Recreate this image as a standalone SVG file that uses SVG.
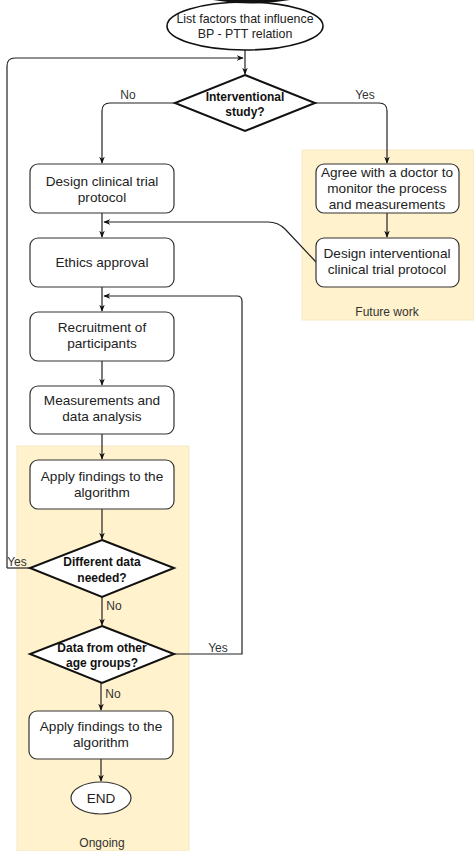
<svg xmlns="http://www.w3.org/2000/svg" width="474" height="851" viewBox="0 0 474 851">
<style>
.t{font-family:"Liberation Sans",Arial,sans-serif;font-size:13.6px;fill:#222;text-anchor:middle}
.s{font-size:12.4px}
.b{font-family:"Liberation Sans",Arial,sans-serif;font-size:12px;font-weight:bold;fill:#111;text-anchor:middle}
.l{font-family:"Liberation Sans",Arial,sans-serif;font-size:12px;fill:#333;text-anchor:middle}
.box{fill:#fff;stroke:#333;stroke-width:1.2}
.dia{fill:#fff;stroke:#111;stroke-width:2}
.c{fill:none;stroke:#222;stroke-width:1.2}
.cont{fill:#fff2cc;stroke:#f5e9c8;stroke-width:1}
</style>
<defs>
<marker id="a" viewBox="0 0 10 10" refX="9" refY="5" markerWidth="7" markerHeight="7" orient="auto" markerUnits="userSpaceOnUse">
<path d="M0,1 L10,5 L0,9 L3,5 Z" fill="#111"/>
</marker>
</defs>
<rect width="474" height="851" fill="#fff"/>
<g id="future-work">
<rect class="cont" x="302" y="150" width="172" height="170"/>
<text class="l" x="387" y="316">Future work</text>
</g>
<g id="ongoing">
<rect class="cont" x="17" y="446" width="172" height="405"/>
<text class="l" x="102" y="847">Ongoing</text>
</g>
<g id="connectors">
<line class="c" x1="245" y1="50" x2="245" y2="74" marker-end="url(#a)"/>
<path class="c" d="M7,568 L7,66 Q7,58 15,58 L243,58" marker-end="url(#a)"/>
<path class="c" d="M175,103 L110,103 Q102,103 102,111 L102,163" marker-end="url(#a)"/>
<path class="c" d="M315,103 L379,103 Q387,103 387,111 L387,163" marker-end="url(#a)"/>
<line class="c" x1="387" y1="213" x2="387" y2="237" marker-end="url(#a)"/>
<path class="c" d="M316,262 L285,229 Q278,222 268,222 L104,222" marker-end="url(#a)"/>
<line class="c" x1="102" y1="213" x2="102" y2="237" marker-end="url(#a)"/>
<line class="c" x1="102" y1="287" x2="102" y2="311" marker-end="url(#a)"/>
<path class="c" d="M174,654 L242,654 L242,301 Q242,296 237,296 L104,296" marker-end="url(#a)"/>
<line class="c" x1="102" y1="361" x2="102" y2="385" marker-end="url(#a)"/>
<line class="c" x1="102" y1="434" x2="102" y2="459" marker-end="url(#a)"/>
<line class="c" x1="102" y1="509" x2="102" y2="539" marker-end="url(#a)"/>
<line class="c" x1="30" y1="568" x2="7" y2="568"/>
<line class="c" x1="102" y1="597" x2="102" y2="625" marker-end="url(#a)"/>
<line class="c" x1="101" y1="683" x2="101" y2="710" marker-end="url(#a)"/>
<line class="c" x1="101" y1="759" x2="101" y2="781" marker-end="url(#a)"/>
<text class="l" x="128" y="99">No</text>
<text class="l" x="365" y="99">Yes</text>
<text class="l" x="17" y="566">Yes</text>
<text class="l" x="114" y="610">No</text>
<text class="l" x="218" y="652">Yes</text>
<text class="l" x="113" y="698">No</text>
</g>
<g id="start">
<ellipse cx="245" cy="26" rx="78" ry="24" fill="#fff" stroke="#111" stroke-width="1.6"/>
<path d="M213,0 Q251,7 290,0 Z" fill="#111"/>
<text class="t s" x="245" y="23">List factors that influence</text>
<text class="t s" x="245" y="38">BP - PTT relation</text>
</g>
<g id="interventional">
<polygon class="dia" points="245,75 315,103 245,131 175,103"/>
<text class="b" x="245" y="101">Interventional</text>
<text class="b" x="245" y="116">study?</text>
</g>
<g id="design-clinical">
<rect class="box" x="30" y="164" width="144" height="49" rx="8"/>
<text class="t" x="102" y="186">Design clinical trial</text>
<text class="t" x="102" y="202">protocol</text>
</g>
<g id="agree">
<rect class="box" x="316" y="164" width="143" height="49" rx="8"/>
<text class="t" x="387" y="177">Agree with a doctor to</text>
<text class="t" x="387" y="193">monitor the process</text>
<text class="t" x="387" y="209">and measurements</text>
</g>
<g id="design-interventional">
<rect class="box" x="316" y="238" width="143" height="49" rx="8"/>
<text class="t" x="387" y="258">Design interventional</text>
<text class="t" x="387" y="274">clinical trial protocol</text>
</g>
<g id="ethics">
<rect class="box" x="30" y="238" width="144" height="49" rx="8"/>
<text class="t" x="102" y="267">Ethics approval</text>
</g>
<g id="recruitment">
<rect class="box" x="30" y="312" width="144" height="49" rx="8"/>
<text class="t" x="102" y="332">Recruitment of</text>
<text class="t" x="102" y="348">participants</text>
</g>
<g id="measurements">
<rect class="box" x="30" y="386" width="144" height="48" rx="8"/>
<text class="t" x="102" y="405">Measurements and</text>
<text class="t" x="102" y="421">data analysis</text>
</g>
<g id="apply1">
<rect class="box" x="30" y="460" width="144" height="49" rx="8"/>
<text class="t" x="102" y="481">Apply findings to the</text>
<text class="t" x="102" y="497">algorithm</text>
</g>
<g id="different-data">
<polygon class="dia" points="102,540 174,568 102,597 30,568"/>
<text class="b" x="102" y="566">Different data</text>
<text class="b" x="102" y="582">needed?</text>
</g>
<g id="other-age">
<polygon class="dia" points="102,626 174,654 102,683 30,654"/>
<text class="b" x="102" y="652">Data from other</text>
<text class="b" x="102" y="667">age groups?</text>
</g>
<g id="apply2">
<rect class="box" x="29" y="711" width="144" height="48" rx="8"/>
<text class="t" x="101" y="731">Apply findings to the</text>
<text class="t" x="101" y="747">algorithm</text>
</g>
<g id="end">
<ellipse cx="101" cy="798" rx="30" ry="16" fill="#fff" stroke="#333" stroke-width="1.2"/>
<text class="t" x="101" y="803">END</text>
</g>
</svg>
